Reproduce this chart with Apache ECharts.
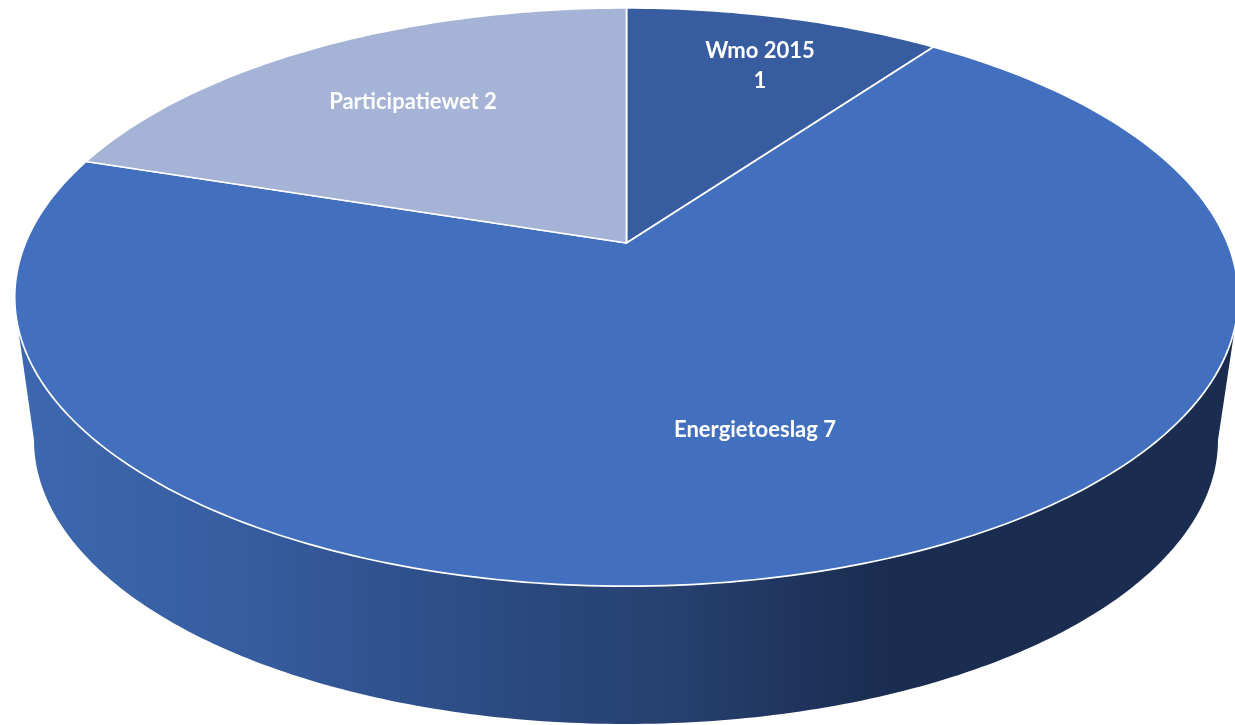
<!DOCTYPE html>
<html>
<head>
<meta charset="utf-8">
<title>Pie</title>
<style>
html, body { margin: 0; padding: 0; background: #fff; }
#main { width: 1235px; height: 725px; }
</style>
<script src="https://cdn.jsdelivr.net/npm/echarts@6/dist/echarts.min.js"></script>
</head>
<body>
<div id="main"></div>
<script>
// data
var categories = ['Wmo 2015', 'Energietoeslag', 'Participatiewet'];
var values = [1, 7, 2];
var labelTexts = ['Wmo 2015\n1', 'Energietoeslag 7', 'Participatiewet 2'];

// look
var sliceColors = ['#375c9f', '#4270bf', '#a5b3d7'];
var labelPlaces = [[760, 66], [755, 430], [413, 102]];

// pie disc seen in perspective: the tilted circle is mapped to the screen
var apexX = 626.5, apexY = 243;
var spreadX = 601, spreadY = 279, tilt = 0.1869;
// lower rim of the wall
var footX = 626, footY = 440, footRx = 592, footRy = 284;

var total = values.reduce(function (a, b) { return a + b; }, 0);

function rimPoint(frac) {
    var t = frac * Math.PI * 2;
    var u = Math.sin(t), v = Math.cos(t);
    var w = 1 + tilt * v;
    return [apexX + spreadX * u / w, apexY - spreadY * v / w];
}

function sliceItem(params, api) {
    var i = params.dataIndex;
    var before = 0;
    for (var k = 0; k < i; k++) before += values[k];
    var from = before / total;
    var to = (before + api.value(0)) / total;
    var pts = [[apexX, apexY]];
    var steps = Math.max(12, Math.round((to - from) * 360));
    for (var s = 0; s <= steps; s++) {
        pts.push(rimPoint(from + (to - from) * s / steps));
    }
    return {
        type: 'group',
        children: [{
            type: 'polygon',
            shape: { points: pts },
            style: { fill: sliceColors[i], stroke: '#fff', lineWidth: 1.7, lineJoin: 'round' }
        }, {
            type: 'text',
            z2: 10,
            style: {
                text: labelTexts[i],
                x: labelPlaces[i][0],
                y: labelPlaces[i][1],
                align: 'center',
                verticalAlign: 'middle',
                fill: '#fff',
                font: 'bold 22px Lato',
                lineHeight: 30
            }
        }]
    };
}

function wallItem() {
    var pts = [];
    var s;
    // front of the top rim, right side round to the left side
    for (s = 0; s <= 200; s++) {
        pts.push(rimPoint(0.2855 + (0.7145 - 0.2855) * s / 200));
    }
    // lower rim, left to right
    for (s = 0; s <= 200; s++) {
        var a = Math.PI * (1 - s / 200);
        pts.push([footX + footRx * Math.cos(a), footY + footRy * Math.sin(a)]);
    }
    return {
        type: 'polygon',
        shape: { points: pts },
        style: {
            fill: {
                type: 'linear', global: true,
                x: 15, y: 0, x2: 1235, y2: 0,
                colorStops: [
                    { offset: 0, color: '#3d68b0' },
                    { offset: 0.2, color: '#365c9e' },
                    { offset: 0.4, color: '#2b4a80' },
                    { offset: 0.55, color: '#263f6e' },
                    { offset: 0.72, color: '#1a2c4f' },
                    { offset: 1, color: '#1a2c4f' }
                ]
            }
        }
    };
}

var chart = echarts.init(document.getElementById('main'));
chart.setOption({
    animation: false,
    backgroundColor: '#fff',
    series: [
        {
            type: 'custom',
            coordinateSystem: 'none',
            silent: true,
            data: [[values[1]]],
            renderItem: wallItem
        },
        {
            type: 'custom',
            coordinateSystem: 'none',
            silent: true,
            data: categories.map(function (c, i) { return { name: c, value: [values[i]] }; }),
            renderItem: sliceItem
        }
    ]
});
</script>
</body>
</html>
